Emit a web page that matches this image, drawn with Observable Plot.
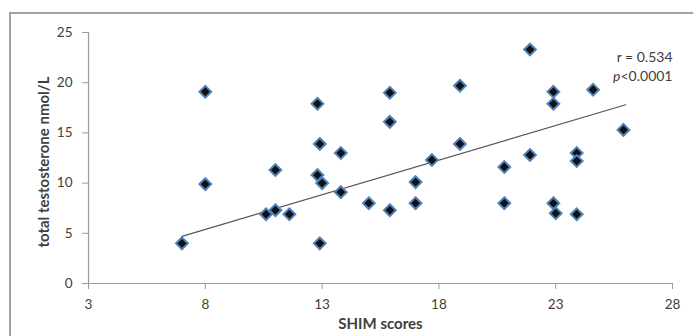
<!DOCTYPE html>
<html>
<head>
<meta charset="utf-8">
<script src="https://cdn.jsdelivr.net/npm/d3@7"></script>
<script src="https://cdn.jsdelivr.net/npm/@observablehq/plot@0.6"></script>
<style>
  html, body { margin: 0; padding: 0; background: #fff; overflow: hidden; }
  #wrap { position: relative; width: 693px; height: 336px; }
  #frame { position: absolute; left: 9px; top: 12px; width: 720px; height: 360px;
           border: 2.5px solid #a3a3a3; box-sizing: border-box; }
  #chart { position: absolute; left: 0; top: 0; }
</style>
</head>
<body>
<div id="wrap"><div id="frame"></div><div id="chart"></div></div>
<script>
// SHIM scores (x) and total testosterone nmol/L (y)
const shim = [7, 8, 8, 10.6, 11, 11, 11.6, 12.8, 12.9, 12.8, 13, 12.9, 13.8, 13.8,
  15, 15.9, 15.9, 15.9, 17, 17, 17.7, 18.9, 18.9, 20.8, 20.8, 21.9, 21.9,
  22.9, 22.9, 22.9, 23, 23.9, 23.9, 23.9, 24.6, 25.9];
const testosterone = [4.0, 19.1, 9.9, 6.9, 11.3, 7.3, 6.9, 17.9, 13.9, 10.8, 10.0, 4.0, 13.0, 9.1,
  8.0, 7.3, 19.0, 16.1, 10.1, 8.0, 12.3, 19.7, 13.9, 11.6, 8.0, 23.3, 12.8,
  19.1, 17.9, 8.0, 7.0, 13.0, 12.2, 6.9, 19.3, 15.3];
// linear trend line end points
const trendX = [7, 26];
const trendY = [4.7, 17.8];
const xTicks = [3, 8, 13, 18, 23, 28];
const yTicks = [0, 5, 10, 15, 20, 25];
const xTitle = "SHIM scores";
const yTitle = "total testosterone nmol/L";
const stats = ["r = 0.534", "p<0.0001"];

const points = shim.map((x, i) => ({x, y: testosterone[i]}));
const trend = trendX.map((x, i) => ({x, y: trendY[i]}));

const axisColor = "#9a9a9a";
const textColor = "#404040";
const font = "Lato, 'Open Sans', sans-serif";

const chart = Plot.plot({
  width: 693,
  height: 336,
  marginLeft: 88,
  marginRight: 21,
  marginTop: 32,
  marginBottom: 53,
  style: {fontFamily: font, fontSize: "13.5px", color: textColor, background: "transparent"},
  x: {domain: [3, 28], axis: null},
  y: {domain: [0, 25], axis: null},
  marks: [
    Plot.ruleY([0], {stroke: axisColor, strokeWidth: 1.2}),
    Plot.ruleX([3], {stroke: axisColor, strokeWidth: 1.2}),
    Plot.axisX({ticks: xTicks, tickSize: 6, tickPadding: 10, stroke: axisColor, fill: textColor, label: null, fontSize: 13.5}),
    Plot.axisY({ticks: yTicks, tickSize: 6, tickPadding: 10, stroke: axisColor, fill: textColor, label: null, fontSize: 13.5}),
    Plot.line(trend, {x: "x", y: "y", stroke: "#555", strokeWidth: 1.2}),
    Plot.dot(points, {x: "x", y: "y", symbol: "diamond2", r: 5.3, fill: "#111", stroke: "#4f81bd", strokeWidth: 2}),
    Plot.text([stats[0]], {x: 28, y: 22.5, text: d => d, textAnchor: "end", fontSize: 14, fill: textColor}),
    Plot.text([stats[1]], {x: 28, y: 20.6, text: d => d, textAnchor: "end", fontSize: 14, fill: textColor, className: "pval"}),
    Plot.text([xTitle], {frameAnchor: "bottom", dy: 45, text: d => d, fontWeight: "bold", fontSize: 15, fill: textColor}),
    Plot.text([yTitle], {frameAnchor: "left", textAnchor: "middle", dx: -44, dy: 4, rotate: -90, text: d => d, fontWeight: "bold", fontSize: 15, fill: textColor})
  ]
});
document.getElementById("chart").appendChild(chart);
// italicize the "p" in the p-value label
chart.querySelectorAll(".pval text").forEach(t => {
  const s = t.textContent;
  if (s.startsWith("p")) {
    t.textContent = "";
    const a = document.createElementNS("http://www.w3.org/2000/svg", "tspan");
    a.setAttribute("font-style", "italic");
    a.textContent = "p";
    const b = document.createElementNS("http://www.w3.org/2000/svg", "tspan");
    b.textContent = s.slice(1);
    t.appendChild(a); t.appendChild(b);
  }
});
</script>
</body>
</html>
